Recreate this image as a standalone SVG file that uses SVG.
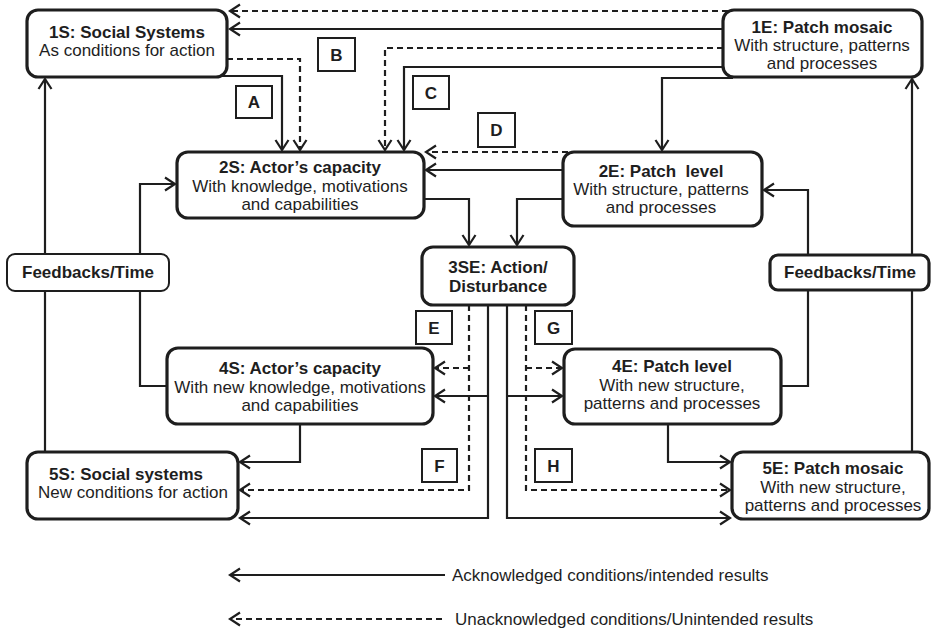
<svg xmlns="http://www.w3.org/2000/svg" width="931" height="629" viewBox="0 0 931 629">
<style>
  .node { fill: #fff; stroke: #1e1e1e; stroke-width: 3.2; }
  .fbl { fill: #fff; stroke: #1e1e1e; stroke-width: 2; }
  .lbl { fill: #fff; stroke: #1e1e1e; stroke-width: 2; }
  .t { font-family: "Liberation Sans", Arial, sans-serif; font-size: 17px; fill: #1e1e1e; text-anchor: middle; }
  .b { font-weight: bold; }
  .pre { white-space: pre; }
  .lg { font-family: "Liberation Sans", Arial, sans-serif; font-size: 17px; fill: #1e1e1e; }
  .c { fill: none; stroke: #1e1e1e; stroke-width: 2.2; }
  .d { fill: none; stroke: #1e1e1e; stroke-width: 2.2; stroke-dasharray: 6 4; }
  .a { marker-end: url(#arr); }
</style>
<defs>
  <marker id="arr" viewBox="-13 -8 15 16" refX="0" refY="0" markerWidth="15" markerHeight="16" markerUnits="userSpaceOnUse" orient="auto">
    <path d="M-10,-6.5 L0,0 L-10,6.5" fill="none" stroke="#1e1e1e" stroke-width="2.2"/>
  </marker>
</defs>
<rect width="931" height="629" fill="#fff"/>

<g id="connectors">
  <path class="c a" d="M723,29 H230"/>
  <path class="d a" d="M728,11 H230"/>
  <path class="c a" d="M723,67 H404 V150"/>
  <path class="d a" d="M723,48 H385 V150"/>
  <path class="c a" d="M222,76 H282 V150"/>
  <path class="d a" d="M227,59 H300 V150"/>
  <path class="d a" d="M568,152 H426"/>
  <path class="c a" d="M563,170 H426"/>
  <path class="c a" d="M424,199 H469 V245"/>
  <path class="c a" d="M563,199 H517 V245"/>
  <path class="c a" d="M733,78 H662 V150"/>
  <path class="c a" d="M912,452 V79"/>
  <path class="c a" d="M781,386 H808 V190 H764"/>
  <path class="c a" d="M45,452 V79"/>
  <path class="c a" d="M167,386 H140 V184 H175"/>
  <path class="c a" d="M488,305 V518 H240"/>
  <path class="c a" d="M488,396 H435"/>
  <path class="c a" d="M507,305 V518 H730"/>
  <path class="c a" d="M507,396 H562"/>
  <path class="d a" d="M469,305 V490 H240"/>
  <path class="d a" d="M469,368 H435"/>
  <path class="d a" d="M526,305 V490 H730"/>
  <path class="d a" d="M526,368 H562"/>
  <path class="c a" d="M300,424 V462 H240"/>
  <path class="c a" d="M668,424 V462 H730"/>
</g>

<g id="n1S">
  <rect class="node" x="27" y="10" width="200" height="67" rx="11"/>
  <text class="t b" x="127" y="38">1S: Social Systems</text>
  <text class="t" x="127" y="56">As conditions for action</text>
</g>
<g id="n1E">
  <rect class="node" x="723" y="10" width="199" height="67" rx="11"/>
  <text class="t b" x="822" y="33">1E: Patch mosaic</text>
  <text class="t" x="822" y="51">With structure, patterns</text>
  <text class="t" x="822" y="69">and processes</text>
</g>
<g id="n2S">
  <rect class="node" x="177" y="152" width="247" height="66" rx="11"/>
  <text class="t b" x="300" y="173">2S: Actor’s capacity</text>
  <text class="t" x="300" y="192">With knowledge, motivations</text>
  <text class="t" x="300" y="210">and capabilities</text>
</g>
<g id="n2E">
  <rect class="node" x="563" y="152" width="199" height="74" rx="11"/>
  <text class="t b pre" x="661" y="177" xml:space="preserve">2E: Patch  level</text>
  <text class="t" x="661" y="195">With structure, patterns</text>
  <text class="t" x="661" y="213">and processes</text>
</g>
<g id="n3SE">
  <rect class="node" x="422" y="247" width="152" height="58" rx="11"/>
  <text class="t b" x="498" y="273">3SE: Action/</text>
  <text class="t b" x="498" y="292">Disturbance</text>
</g>
<g id="fbLeft">
  <rect class="fbl" x="7" y="254" width="162" height="37" rx="8"/>
  <text class="t b" x="88" y="278">Feedbacks/Time</text>
</g>
<g id="fbRight">
  <rect class="node" x="770" y="255" width="159" height="35" rx="8"/>
  <text class="t b" x="850" y="278">Feedbacks/Time</text>
</g>
<g id="n4S">
  <rect class="node" x="167" y="348" width="266" height="76" rx="11"/>
  <text class="t b" x="300" y="374">4S: Actor’s capacity</text>
  <text class="t" x="300" y="393">With new knowledge, motivations</text>
  <text class="t" x="300" y="411">and capabilities</text>
</g>
<g id="n4E">
  <rect class="node" x="564" y="349" width="217" height="75" rx="11"/>
  <text class="t b" x="672" y="372">4E: Patch level</text>
  <text class="t" x="672" y="391">With new structure,</text>
  <text class="t" x="672" y="409">patterns and processes</text>
</g>
<g id="n5S">
  <rect class="node" x="27" y="452" width="211" height="67" rx="11"/>
  <text class="t b" x="126" y="480">5S: Social systems</text>
  <text class="t" x="133" y="498">New conditions for action</text>
</g>
<g id="n5E">
  <rect class="node" x="732" y="452" width="197" height="67" rx="11"/>
  <text class="t b" x="833" y="474">5E: Patch mosaic</text>
  <text class="t" x="833" y="493">With new structure,</text>
  <text class="t" x="833" y="511">patterns and processes</text>
</g>

<g id="labelA"><rect class="lbl" x="236" y="86" width="36" height="32"/><text class="t b" x="254" y="108">A</text></g>
<g id="labelB"><rect class="lbl" x="318" y="38" width="37" height="33"/><text class="t b" x="336.5" y="61">B</text></g>
<g id="labelC"><rect class="lbl" x="413" y="76" width="36" height="33"/><text class="t b" x="431" y="99">C</text></g>
<g id="labelD"><rect class="lbl" x="478" y="113" width="37" height="34"/><text class="t b" x="496.5" y="136">D</text></g>
<g id="labelE"><rect class="lbl" x="416" y="311" width="36" height="33"/><text class="t b" x="434" y="334">E</text></g>
<g id="labelG"><rect class="lbl" x="535" y="311" width="37" height="33"/><text class="t b" x="553.5" y="334">G</text></g>
<g id="labelF"><rect class="lbl" x="422" y="449" width="35" height="33"/><text class="t b" x="439.5" y="472">F</text></g>
<g id="labelH"><rect class="lbl" x="535" y="449" width="37" height="33"/><text class="t b" x="553.5" y="472">H</text></g>

<g id="legend">
  <path class="c a" d="M445,575 H230"/>
  <text class="lg" x="452" y="581">Acknowledged conditions/intended results</text>
  <path class="d a" d="M442,619 H230"/>
  <text class="lg" x="455" y="625">Unacknowledged conditions/Unintended results</text>
</g>
</svg>
